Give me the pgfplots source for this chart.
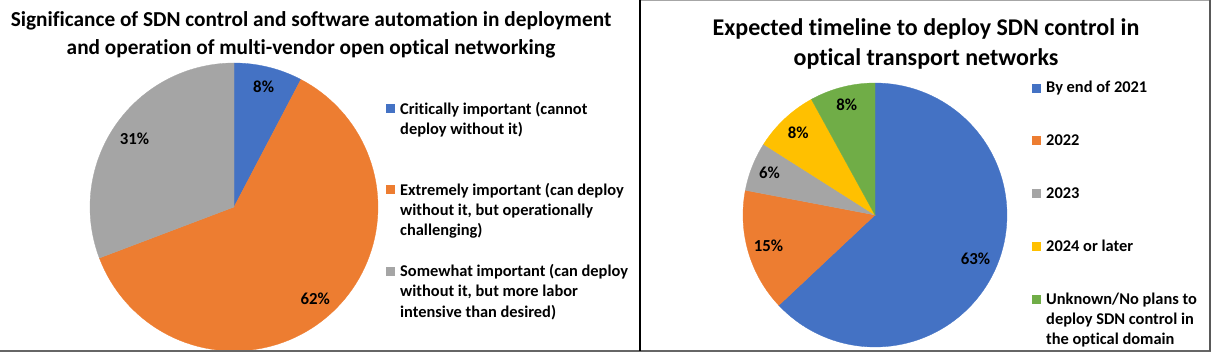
\documentclass[border=0pt]{standalone}
\usepackage{pgfplots}
\pgfplotsset{compat=1.18}
\usepackage{fontspec}
\setmainfont{Carlito}[Ligatures=NoCommon]
\definecolor{cBlue}{HTML}{4472C4}
\definecolor{cOrange}{HTML}{ED7D31}
\definecolor{cGray}{HTML}{A5A5A5}
\definecolor{cYellow}{HTML}{FFC000}
\definecolor{cGreen}{HTML}{70AD47}
% ---------------- data (percent shares) ----------------
% left pie: significance of SDN control
\def\LpA{7.69}   % Critically important
\def\LpB{61.54}  % Extremely important
\def\LpC{30.77}  % Somewhat important
% right pie: expected timeline
\def\RpA{63} % By end of 2021
\def\RpB{15} % 2022
\def\RpC{6}  % 2023
\def\RpD{8}  % 2024 or later
\def\RpE{8}  % Unknown / no plans
% ---------------- angles (clockwise from 12 o'clock) ----------------
\pgfmathsetmacro{\LaO}{90}
\pgfmathsetmacro{\LaA}{\LaO-3.6*\LpA}
\pgfmathsetmacro{\LaB}{\LaA-3.6*\LpB}
\pgfmathsetmacro{\LaC}{\LaB-3.6*\LpC}
\pgfmathsetmacro{\LmA}{(\LaO+\LaA)/2}
\pgfmathsetmacro{\LmB}{(\LaA+\LaB)/2}
\pgfmathsetmacro{\LmC}{(\LaB+\LaC)/2}
\pgfmathsetmacro{\RaO}{90}
\pgfmathsetmacro{\RaA}{\RaO-3.6*\RpA}
\pgfmathsetmacro{\RaB}{\RaA-3.6*\RpB}
\pgfmathsetmacro{\RaC}{\RaB-3.6*\RpC}
\pgfmathsetmacro{\RaD}{\RaC-3.6*\RpD}
\pgfmathsetmacro{\RaE}{\RaD-3.6*\RpE}
\pgfmathsetmacro{\RmA}{(\RaO+\RaA)/2}
\pgfmathsetmacro{\RmB}{(\RaA+\RaB)/2}
\pgfmathsetmacro{\RmC}{(\RaB+\RaC)/2}
\pgfmathsetmacro{\RmD}{(\RaC+\RaD)/2}
\pgfmathsetmacro{\RmE}{(\RaD+\RaE)/2}
\newcommand{\tfont}[1]{\bfseries\fontsize{#1}{#1}\selectfont}
\newcommand{\pieslice}[3]{% color, from, to
  \addplot[fill=#1, draw=#1, line width=0.3bp, domain=#3:#2, samples=90, variable=\t]
    ({cos(\t)},{sin(\t)}) -- (axis cs:0,0) -- cycle;}
\begin{document}
\begin{tikzpicture}
\useasboundingbox (0,0) rectangle (1212bp,355bp);
\pgfplotsset{pieaxis/.style={hide axis, axis equal image, scale only axis,
  xmin=-1, xmax=1, ymin=-1, ymax=1, clip=false, anchor=center}}
% ---------- left pie ----------
\begin{axis}[pieaxis, at={(234bp,148bp)}, width=288bp, height=288bp]
\pieslice{cBlue}{\LaO}{\LaA}
\pieslice{cOrange}{\LaA}{\LaB}
\pieslice{cGray}{\LaB}{\LaC}
\node[font=\tfont{16.8bp}] at (axis cs:{0.86*cos(\LmA)},{0.86*sin(\LmA)}) {8\%};
\node[font=\tfont{16.8bp}] at (axis cs:{0.85*cos(\LmB)},{0.85*sin(\LmB)}) {62\%};
\node[font=\tfont{16.8bp}] at (axis cs:{0.84*cos(\LmC)},{0.84*sin(\LmC)}) {31\%};
\end{axis}
% ---------- right pie ----------
\begin{axis}[pieaxis, at={(875bp,140bp)}, width=264bp, height=264bp]
\pieslice{cBlue}{\RaO}{\RaA}
\pieslice{cOrange}{\RaA}{\RaB}
\pieslice{cGray}{\RaB}{\RaC}
\pieslice{cYellow}{\RaC}{\RaD}
\pieslice{cGreen}{\RaD}{\RaE}
\node[font=\tfont{16.8bp}] at (axis cs:{0.83*cos(\RmA)},{0.83*sin(\RmA)}) {63\%};
\node[font=\tfont{16.8bp}] at (axis cs:{0.84*cos(\RmB)},{0.84*sin(\RmB)}) {15\%};
\node[font=\tfont{16.8bp}] at (axis cs:{0.86*cos(\RmC)},{0.86*sin(\RmC)}) {6\%};
\node[font=\tfont{16.8bp}] at (axis cs:{0.85*cos(\RmD)},{0.85*sin(\RmD)}) {8\%};
\node[font=\tfont{16.8bp}] at (axis cs:{0.86*cos(\RmE)},{0.86*sin(\RmE)}) {8\%};
\end{axis}
% ---------- frames ----------
\draw[line width=2bp, black!60] (0,4bp) -- (1211bp,4bp);
\draw[line width=1.5bp, black!35] (640bp,354.3bp) -- (1210bp,354.3bp);
\draw[line width=2bp, black!65] (1210bp,355bp) -- (1210bp,4bp);
\draw[line width=2bp, black] (640bp,355bp) -- (640bp,4bp);
% ---------- titles ----------
\node[anchor=base, font=\tfont{21.3bp}] at (311bp,328bp) {Significance of SDN control and software automation in deployment};
\node[anchor=base, font=\tfont{21.3bp}] at (311bp,300bp) {and operation of multi-vendor open optical networking};
\node[anchor=base, font=\tfont{24bp}] at (926bp,319bp) {Expected timeline to deploy SDN control in};
\node[anchor=base, font=\tfont{24bp}] at (926bp,289bp) {optical transport networks};
% ---------- left legend ----------
\begin{scope}[every node/.style={anchor=base west, font=\tfont{16.4bp}, inner sep=0pt}]
\fill[cBlue]   (386bp,241.5bp) rectangle ++(9bp,9bp);
\fill[cOrange] (386bp,160.5bp) rectangle ++(9bp,9bp);
\fill[cGray]   (386bp,78.8bp) rectangle ++(9bp,9bp);
\node at (400bp,240bp) {Critically important (cannot};
\node at (400bp,220bp) {deploy without it)};
\node at (400bp,159bp) {Extremely important (can deploy};
\node at (400bp,139bp) {without it, but operationally};
\node at (400bp,119bp) {challenging)};
\node at (400bp,78bp) {Somewhat important (can deploy};
\node at (400bp,58bp) {without it, but more labor};
\node at (400bp,38bp) {intensive than desired)};
% ---------- right legend ----------
\fill[cBlue]   (1032bp,262.2bp) rectangle ++(9bp,9bp);
\fill[cOrange] (1032bp,209.5bp) rectangle ++(9bp,9bp);
\fill[cGray]   (1032bp,156.5bp) rectangle ++(9bp,9bp);
\fill[cYellow] (1032bp,103.8bp) rectangle ++(9bp,9bp);
\fill[cGreen]  (1032bp,50.5bp) rectangle ++(9bp,9bp);
\node at (1046bp,262.3bp) {By end of 2021};
\node at (1046bp,209bp) {2022};
\node at (1046bp,156bp) {2023};
\node at (1046bp,103.3bp) {2024 or later};
\node at (1046bp,50bp) {Unknown/No plans to};
\node at (1046bp,30.7bp) {deploy SDN control in};
\node at (1046bp,11bp) {the optical domain};
\end{scope}
\end{tikzpicture}
\end{document}
